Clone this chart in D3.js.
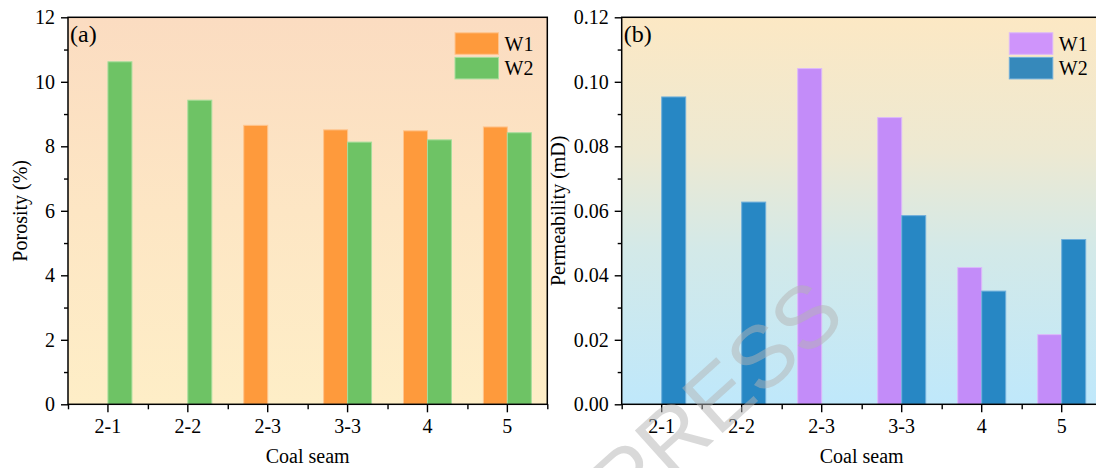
<!DOCTYPE html>
<html>
<head>
<meta charset="utf-8">
<script src="https://cdn.jsdelivr.net/npm/d3@7"></script>
<style>
  html, body { margin: 0; padding: 0; background: #ffffff; }
  svg { display: block; }
</style>
</head>
<body>
<svg id="chart" width="1096" height="468"></svg>
<script>
// Coal seams along the x axis
const seams = ["2-1", "2-2", "2-3", "3-3", "4", "5"];
const wells = ["W1", "W2"];

// Porosity (%) per seam; null where a well has no sample
const porosityW1 = [null, null, 8.65, 8.51, 8.48, 8.60];
const porosityW2 = [10.62, 9.43, null, 8.13, 8.20, 8.42];

// Permeability (mD) per seam
const permeabilityW1 = [null, null, 0.1041, 0.0889, 0.0424, 0.0216];
const permeabilityW2 = [0.0953, 0.0627, null, 0.0585, 0.0351, 0.0511];

// Axis ticks
const porosityTicks = [0, 2, 4, 6, 8, 10, 12];
const porosityMinor = [1, 3, 5, 7, 9, 11];
const permeabilityTicks = [0, 0.02, 0.04, 0.06, 0.08, 0.10, 0.12];
const permeabilityMinor = [0.01, 0.03, 0.05, 0.07, 0.09, 0.11];

const SERIF = "'Liberation Serif', 'Times New Roman', Times, serif";

const svg = d3.select("#chart");
const defs = svg.append("defs");

function gradient(id, stops) {
  const g = defs.append("linearGradient").attr("id", id)
    .attr("x1", 0).attr("y1", 0).attr("x2", 0).attr("y2", 1);
  stops.forEach(([o, c]) => g.append("stop").attr("offset", o).attr("stop-color", c));
}
gradient("bgA", [[0, "#fbdcc1"], [0.5, "#fde6c4"], [1, "#feeec7"]]);
gradient("bgB", [[0, "#fce8c4"], [0.35, "#ede9d2"], [0.6, "#d3e9e8"], [1, "#bfe8fb"]]);

function panel(opt) {
  const { left, top, width, height } = opt;
  const g = svg.append("g").attr("transform", `translate(${left},${top})`);

  const x = d3.scaleBand().domain(seams).range([0, width]).padding(0);
  const bw = x.step() * 0.3;
  const xs = d3.scaleBand().domain(wells).range([-bw, bw]).padding(0);
  const y = d3.scaleLinear().domain([0, opt.max]).range([height, 0]);

  g.append("rect").attr("width", width).attr("height", height)
    .attr("fill", `url(#${opt.bg})`);

  const rows = seams.map((s, i) => ({ seam: s, W1: opt.w1[i], W2: opt.w2[i] }));
  const bars = [];
  rows.forEach(r => wells.forEach(w => { if (r[w] != null) bars.push({ seam: r.seam, well: w, v: r[w] }); }));

  g.append("g").selectAll("rect").data(bars).join("rect")
    .attr("x", d => x(d.seam) + x.bandwidth() / 2 + xs(d.well))
    .attr("y", d => y(d.v))
    .attr("width", xs.bandwidth())
    .attr("height", d => y(0) - y(d.v))
    .attr("fill", d => opt.colors[d.well])
    .attr("stroke", d => opt.edges[d.well])
    .attr("stroke-width", 1);

  // minor ticks
  const yMinor = g.append("g").call(d3.axisLeft(y).tickValues(opt.minor).tickSize(4).tickFormat(""));
  const edge = d3.scaleLinear().domain([0, seams.length]).range([0, width]);
  const xMinor = g.append("g").attr("transform", `translate(0,${height})`)
    .call(d3.axisBottom(edge).tickValues(d3.range(seams.length + 1)).tickSize(5).tickFormat(""));

  const yAxis = g.append("g").call(d3.axisLeft(y).tickValues(opt.ticks).tickSize(7).tickPadding(6)
    .tickFormat(opt.fmt));
  const xAxis = g.append("g").attr("transform", `translate(0,${height})`)
    .call(d3.axisBottom(x).tickSize(8).tickPadding(7));

  [yMinor, xMinor, yAxis, xAxis].forEach(a => {
    a.attr("font-family", null).attr("font-size", null);
    a.select(".domain").remove();
    a.selectAll("line").attr("stroke", "#000").attr("stroke-width", 1.4);
    a.selectAll("text").style("font-size", "20px");
  });

  // frame
  g.append("rect").attr("width", width).attr("height", height)
    .attr("fill", "none").attr("stroke", "#000").attr("stroke-width", 1.5);

  g.append("text").attr("x", 2).attr("y", 25).style("font-size", "24px").text(opt.tag);

  g.append("text").attr("x", width / 2).attr("y", height + 59)
    .attr("text-anchor", "middle").style("font-size", "20px").text("Coal seam");

  g.append("text").attr("transform", `translate(${opt.titleX},${height / 2}) rotate(-90)`)
    .attr("text-anchor", "middle").style("font-size", "20px").text(opt.title);

  // legend
  const lg = g.append("g").attr("transform", `translate(${opt.legendX},15.5)`);
  wells.forEach((w, i) => {
    lg.append("rect").attr("x", 0).attr("y", i * 24.6).attr("width", 43.5).attr("height", 21.5)
      .attr("fill", opt.legend[w]).attr("stroke", opt.edges[w]).attr("stroke-width", 1);
    lg.append("text").attr("x", 49.5).attr("y", i * 24.6 + 18).style("font-size", "20px").text(w);
  });

  g.selectAll("text").style("font-family", SERIF).style("fill", "#000");
}

panel({
  left: 68, top: 17.3, width: 479.3, height: 387,
  max: 12, ticks: porosityTicks, minor: porosityMinor, fmt: d3.format("d"),
  w1: porosityW1, w2: porosityW2, bg: "bgA",
  colors: { W1: "#fe9a3c", W2: "#6ec365" },
  legend: { W1: "#fe9a3c", W2: "#6ec365" },
  edges: { W1: "#ffc48c", W2: "#a6dd9b" },
  tag: "(a)", title: "Porosity (%)", titleX: -41.5, legendX: 387
});

panel({
  left: 621.7, top: 17.3, width: 480, height: 387,
  max: 0.12, ticks: permeabilityTicks, minor: permeabilityMinor, fmt: d3.format(".2f"),
  w1: permeabilityW1, w2: permeabilityW2, bg: "bgB",
  colors: { W1: "#c38cf9", W2: "#2787c4" },
  legend: { W1: "#cf94fb", W2: "#3689bb" },
  edges: { W1: "#dcb8fb", W2: "#6eaedb" },
  tag: "(b)", title: "Permeability (mD)", titleX: -57, legendX: 387.6
});

// watermark
svg.append("text")
  .attr("transform", "translate(848,320) rotate(-42)")
  .attr("text-anchor", "end")
  .style("font-family", "'Liberation Sans', Arial, sans-serif")
  .style("font-size", "88px")
  .style("fill", "#b4b4b4")
  .style("fill-opacity", 0.5)
  .text("IN PRESS");
</script>
</body>
</html>
